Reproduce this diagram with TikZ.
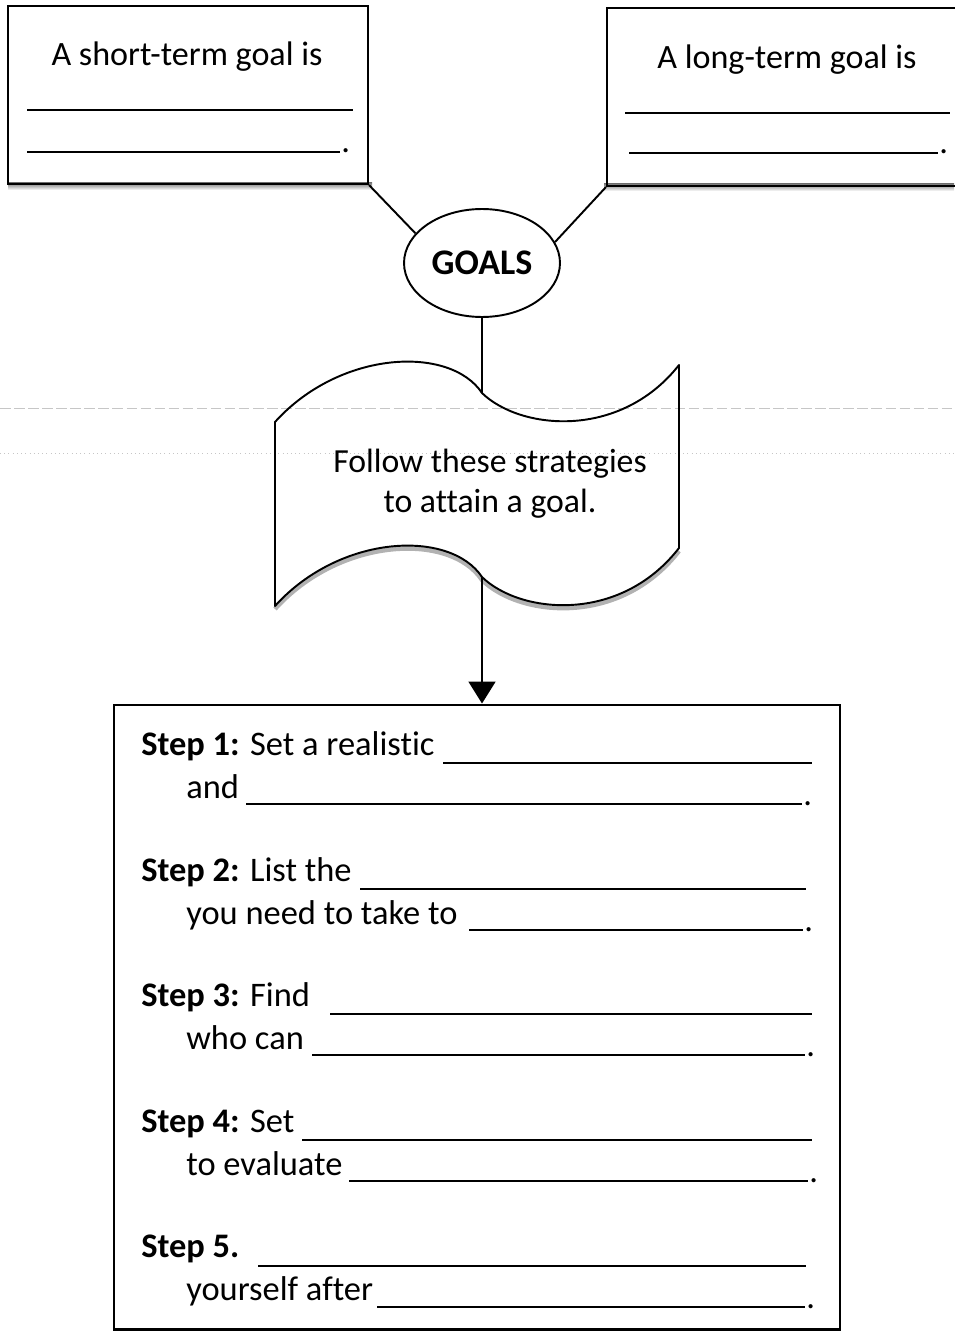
\documentclass[tikz,border=0pt]{standalone}
\usepackage{fontspec}
\setmainfont{Carlito}[Ligatures=NoCommon]
\usetikzlibrary{arrows.meta,shapes.geometric,positioning}
\newcommand{\blank}{\draw[line width=0.9pt]}
\newcommand{\shade}{\fill[gray!55]}
\tikzset{
  goalbox/.style={draw, line width=1.2pt, minimum width=7.2cm, minimum height=3.56cm, inner sep=0pt},
  goaltext/.style={anchor=base, font=\fontsize{19.4}{22}\selectfont},
  goalsoval/.style={draw, ellipse, line width=1.1pt, minimum width=3.12cm, minimum height=2.16cm, inner sep=0pt, font=\fontsize{20.5}{22}\selectfont\bfseries},
  stepsbox/.style={draw, line width=1.2pt, minimum width=14.52cm, minimum height=12.5cm, inner sep=0pt},
  steptext/.style={anchor=base west, inner sep=0pt, font=\fontsize{19.6}{22}\selectfont},
  link/.style={line width=1.1pt}
}
\begin{document}
\begin{tikzpicture}[x=0.02cm, y=-0.02cm]
      \useasboundingbox (0,0) rectangle (954,1338);

      % faint ruling showing through the page
      \draw[gray!45, line width=0.4pt, dash pattern=on 6pt off 2pt] (0,408) -- (954,408);
      \draw[gray!45, line width=0.4pt, dotted] (0,453) -- (954,453);

      % the two goal boxes at the top
      \shade (8,183) rectangle (372,190);
      \node[goalbox] (short) at (188,95) {};
      \node[goaltext] (shortlbl) at (187,66) {A short-term goal is};
      \blank (27,110) -- (353,110);
      \blank (27,152) -- (340,152);
      \node[steptext] at (341,153) {.};

      \shade (604,184) rectangle (954,191);
      \node[goalbox, minimum height=3.56cm, minimum width=7.04cm] (long) at (783,97) {};
      \node[goaltext] (longlbl) at (787,69) {A long-term goal is};
      \blank (625,113) -- (950,113);
      \blank (629,153) -- (938,153);
      \node[steptext] at (939,154) {.};

      % GOALS oval
      \node[goalsoval] (goals) at (482,263) {GOALS};
      \draw[link] (short.south east) -- (goals.156);
      \draw[link] (long.south west) -- (goals.16);

      % the banner
      \coordinate (wtop) at (482,393);
      \coordinate (wbot) at (482,577);
      \draw[gray!60, line width=2.5pt, yshift=-0.06cm]
        (679,548) .. controls (620,624) and (520,614) .. (482,577)
        .. controls (450,529) and (340,534) .. (275,606);
      \draw[line width=1.1pt, line join=round]
        (275,422) .. controls (340,350) and (450,345) .. (wtop)
        .. controls (520,430) and (620,440) .. (679,365)
        -- (679,548) .. controls (620,624) and (520,614) .. (wbot)
        .. controls (450,529) and (340,534) .. (275,606) -- cycle;
      \node[align=center, font=\fontsize{19.2}{22.7}\selectfont] (banner) at (490,484)
        {Follow these strategies\\to attain a goal.};
      \draw[link] (goals.south) -- (wtop);

      % steps box
      \node[stepsbox] (steps) at (477,1017) {};
      \draw[link, -{Triangle[length=0.44cm, width=0.54cm]}] (wbot) -- (wbot |- steps.north);

      %% Step 1
      \node[steptext] (s1a) at (141,755) {\textbf{Step 1:} Set a realistic};
      \blank (443,763) -- (812,763);
      \node[steptext] (s1b) at (186,798) {and};
      \blank (246,804) -- (802,804);
      \node[steptext] at (803,805) {.};

      %% Step 2
      \node[steptext] (s2a) at (141,881) {\textbf{Step 2:} List the};
      \blank (360,889) -- (806,889);
      \node[steptext] (s2b) at (186,924) {you need to take to};
      \blank (469,930) -- (803,930);
      \node[steptext] at (804,931) {.};

      %% Step 3
      \node[steptext] (s3a) at (141,1006) {\textbf{Step 3:} Find};
      \blank (330,1014) -- (812,1014);
      \node[steptext] (s3b) at (186,1049) {who can};
      \blank (312,1055) -- (805,1055);
      \node[steptext] at (806,1056) {.};

      %% Step 4
      \node[steptext] (s4a) at (141,1132) {\textbf{Step 4:} Set};
      \blank (302,1140) -- (812,1140);
      \node[steptext] (s4b) at (186,1175) {to evaluate};
      \blank (349,1181) -- (808,1181);
      \node[steptext] at (809,1182) {.};

      %% Step 5
      \node[steptext] (s5a) at (141,1257) {\textbf{Step 5.}};
      \blank (258,1266) -- (806,1266);
      \node[steptext] (s5b) at (186,1300) {yourself after};
      \blank (377,1307) -- (805,1307);
      \node[steptext] at (806,1308) {.};

\end{tikzpicture}
\end{document}
